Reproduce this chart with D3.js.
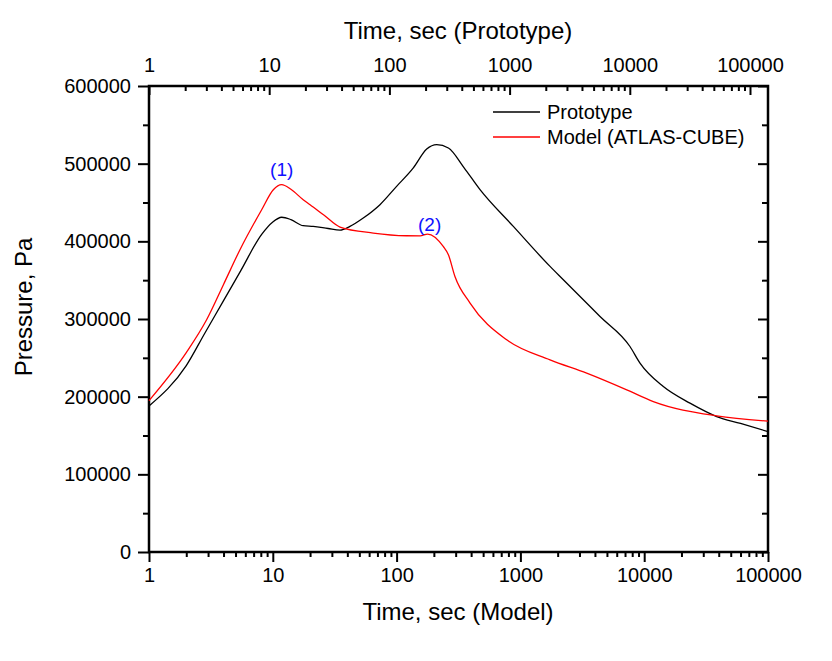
<!DOCTYPE html>
<html>
<head>
<meta charset="utf-8">
<script src="https://cdn.jsdelivr.net/npm/d3@7"></script>
<style>
  html, body { margin: 0; padding: 0; background: #fff; }
  svg { display: block; font-family: "Liberation Sans", Arial, sans-serif; }
</style>
</head>
<body>
<svg id="chart" width="832" height="661"></svg>
<script>
// ---- data ----
const protoTime = [1, 2, 2.83, 3.98, 5.5, 8.13, 10, 11.8, 14, 17.6, 21.2, 28, 34.9, 42, 53.8, 73.4, 100, 136.5, 175, 211, 262, 350, 472, 877, 1735, 2222, 4396, 7675, 9247, 14270, 23440, 38500, 60000, 100000];
const protoPressure = [188000, 240000, 282000, 323000, 362000, 409000, 425000, 431000, 428000, 420100, 419200, 416500, 414500, 419200, 430000, 447200, 470800, 494500, 518800, 524500, 520200, 495000, 466500, 419200, 367700, 350500, 303200, 264600, 243200, 213000, 191600, 174400, 165500, 155000];

const modelTime = [1, 2, 2.92, 4, 5.43, 8.13, 10.1, 11.8, 14, 17.6, 20, 26, 34.9, 64.8, 120, 155, 178, 238, 262, 296, 392, 775, 1735, 3430, 7228, 11850, 38500, 100000];
const modelPressure = [195000, 256800, 299000, 344500, 389200, 440700, 466500, 473000, 467000, 453600, 447200, 433500, 418400, 410700, 407200, 407000, 409400, 393400, 382700, 354800, 320500, 273200, 247400, 230300, 208800, 193700, 175300, 168500];

const xTickValues = [1, 10, 100, 1000, 10000, 100000];
const yTickValues = [0, 100000, 200000, 300000, 400000, 500000, 600000];
const seriesNames = ["Prototype", "Model (ATLAS-CUBE)"];
const annotations = [{label: "(1)", t: 11.8, p: 473000}, {label: "(2)", t: 178, p: 409400}];

// ---- layout ----
const L = 149, R = 768, T = 86, B = 552;
const svg = d3.select("#chart");

const x = d3.scaleLog().domain([1, 100000]).range([L, R]);
const xTop = d3.scaleLog().domain([1, Math.pow(10, 5 * (R - L) / (750 - 149))]).range([L, R]);
const y = d3.scaleLinear().domain([0, 600000]).range([B, T]);

function minorLog(domain) {
  const out = [];
  for (let e = 0; e <= 6; e++) for (let m = 2; m <= 9; m++) {
    const v = m * Math.pow(10, e);
    if (v > domain[0] && v < domain[1]) out.push(v);
  }
  return out;
}
const yMinor = d3.range(50000, 600000, 100000);

// bottom axis
svg.append("g").attr("transform", `translate(0,${B})`)
  .call(d3.axisBottom(x).tickValues(minorLog(x.domain())).tickSize(5).tickFormat(""));
svg.append("g").attr("class", "tl").attr("transform", `translate(0,${B})`)
  .call(d3.axisBottom(x).tickValues(xTickValues).tickSize(10).tickPadding(6).tickFormat(d3.format("d")));
// top axis (ticks inward)
svg.append("g").attr("transform", `translate(0,${T})`)
  .call(d3.axisTop(xTop).tickValues(minorLog(xTop.domain())).tickSize(-5).tickFormat(""));
svg.append("g").attr("class", "tl top").attr("transform", `translate(0,${T})`)
  .call(d3.axisTop(xTop).tickValues(xTickValues).tickSize(-9).tickPadding(14).tickFormat(d3.format("d")));
// left axis
svg.append("g").attr("transform", `translate(${L},0)`)
  .call(d3.axisLeft(y).tickValues(yMinor).tickSize(6).tickFormat(""));
svg.append("g").attr("class", "tl").attr("transform", `translate(${L},0)`)
  .call(d3.axisLeft(y).tickValues(yTickValues).tickSize(11).tickPadding(7).tickFormat(d3.format("d")));
// right axis (ticks inward)
svg.append("g").attr("transform", `translate(${R},0)`)
  .call(d3.axisRight(y).tickValues(yMinor).tickSize(-6).tickFormat(""));
svg.append("g").attr("transform", `translate(${R},0)`)
  .call(d3.axisRight(y).tickValues(yTickValues).tickSize(-10).tickFormat(""));

svg.selectAll(".domain").remove();
svg.selectAll(".tick line").attr("stroke", "#000").attr("stroke-width", 2);
svg.selectAll(".tl text").attr("font-size", 20).attr("fill", "#000")
  .attr("font-family", '"Liberation Sans", Arial, sans-serif');

// frame
svg.append("rect").attr("x", L).attr("y", T).attr("width", R - L).attr("height", B - T)
  .attr("fill", "none").attr("stroke", "#000").attr("stroke-width", 2.5);

// lines
const line = d3.line().x(d => x(d[0])).y(d => y(d[1])).curve(d3.curveMonotoneX);
svg.append("path").datum(protoTime.map((t, i) => [t, protoPressure[i]]))
  .attr("d", line).attr("fill", "none").attr("stroke", "#000").attr("stroke-width", 1.3);
svg.append("path").datum(modelTime.map((t, i) => [t, modelPressure[i]]))
  .attr("d", line).attr("fill", "none").attr("stroke", "#ff0000").attr("stroke-width", 1.3);

// annotations
svg.selectAll("text.ann").data(annotations).enter().append("text")
  .attr("class", "ann")
  .attr("x", d => x(d.t) + (d.label === "(1)" ? 0 : 2))
  .attr("y", d => y(d.p) - (d.label === "(1)" ? 9 : 3))
  .attr("text-anchor", "middle").attr("font-size", 19).attr("fill", "#1010ff")
  .text(d => d.label);

// legend
const legColors = ["#000", "#ff0000"];
seriesNames.forEach((name, i) => {
  const ly = 112 + i * 25;
  svg.append("line").attr("x1", 493).attr("x2", 540).attr("y1", ly).attr("y2", ly)
    .attr("stroke", legColors[i]).attr("stroke-width", 1.3);
  svg.append("text").attr("x", 547).attr("y", ly + 7).attr("font-size", 20).attr("fill", "#000").text(name);
});

// axis titles
svg.append("text").attr("x", 458).attr("y", 620).attr("text-anchor", "middle")
  .attr("font-size", 24).attr("fill", "#000").text("Time, sec (Model)");
svg.append("text").attr("x", 458).attr("y", 39).attr("text-anchor", "middle")
  .attr("font-size", 24).attr("fill", "#000").text("Time, sec (Prototype)");
svg.append("text").attr("transform", "translate(32,307) rotate(-90)").attr("text-anchor", "middle")
  .attr("font-size", 24).attr("fill", "#000").text("Pressure, Pa");
</script>
</body>
</html>
